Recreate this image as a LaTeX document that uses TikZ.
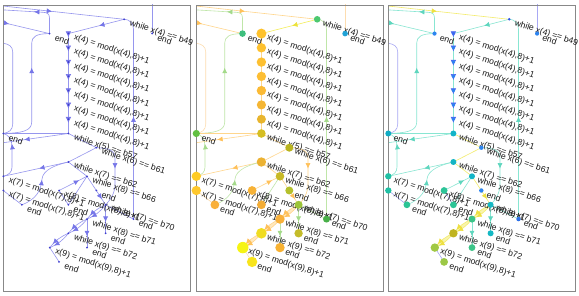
\documentclass[tikz,border=0pt]{standalone}
\usepackage{fontspec}
\setmainfont{Liberation Sans}
\usetikzlibrary{arrows.meta,decorations.markings}
\pgfdeclarelayer{bg}
\pgfdeclarelayer{lab}
\pgfsetlayers{bg,lab,main}

\definecolor{lavE}{RGB}{150,150,238}
\definecolor{lavA}{RGB}{118,118,232}
\definecolor{dotc}{RGB}{60,60,205}
\definecolor{frm}{RGB}{136,136,136}
\definecolor{orE}{HTML}{FFD68C}\definecolor{orA}{HTML}{FFC15A}
\definecolor{grE}{HTML}{BFE6A8}\definecolor{grA}{HTML}{A4DA8A}
\definecolor{loE}{HTML}{FDDDB0}\definecolor{loA}{HTML}{F8C890}
\definecolor{yeE}{HTML}{F4EE5C}\definecolor{yeA}{HTML}{EDE23A}
\definecolor{cyE}{HTML}{88E6D2}\definecolor{cyA}{HTML}{5ED6BE}
\definecolor{y3E}{HTML}{F4EC6C}\definecolor{y3A}{HTML}{EEE040}
\definecolor{puE}{HTML}{A8A8F4}\definecolor{puA}{HTML}{8484EE}
\definecolor{blA}{HTML}{4A6CF0}

% panel 2 node colours
\definecolor{p2A}{HTML}{4CC870}\definecolor{p2B}{HTML}{3EBF7E}\definecolor{p2EB}{HTML}{1FA2D6}
\definecolor{p2C1}{HTML}{FEC22C}\definecolor{p2C2}{HTML}{FEC12E}\definecolor{p2C3}{HTML}{FDC031}
\definecolor{p2C4}{HTML}{FDBE33}\definecolor{p2C5}{HTML}{FBBA35}\definecolor{p2C6}{HTML}{F5B634}
\definecolor{p2C7}{HTML}{E8B52E}\definecolor{p2C8}{HTML}{D6BE22}\definecolor{p2L1}{HTML}{62C042}
\definecolor{p2N6}{HTML}{B9B41F}\definecolor{p2D}{HTML}{ECB232}\definecolor{p2L2}{HTML}{FFCB24}
\definecolor{p2N8}{HTML}{C8BA27}\definecolor{p2L3}{HTML}{FFC82C}\definecolor{p2X8}{HTML}{F7B236}
\definecolor{p2E1}{HTML}{B4C02C}\definecolor{p2E2}{HTML}{F9B03A}\definecolor{p2E3}{HTML}{F3AC35}
\definecolor{p2W70}{HTML}{9CC438}\definecolor{p2E4}{HTML}{48B048}\definecolor{p2W71}{HTML}{F8B03A}
\definecolor{p2E5}{HTML}{C4BC2A}\definecolor{p2W72}{HTML}{F0DC20}\definecolor{p2E6}{HTML}{F8B232}
\definecolor{p2X9}{HTML}{F6F414}\definecolor{p2E7}{HTML}{F8E41C}
% panel 3 node colours
\definecolor{p3A}{HTML}{3050E8}\definecolor{p3B}{HTML}{2C84F0}\definecolor{p3EB}{HTML}{2C84F0}
\definecolor{p3C1}{HTML}{3A6AF0}\definecolor{p3C2}{HTML}{2C84F0}\definecolor{p3C3}{HTML}{2C84F0}
\definecolor{p3C4}{HTML}{2C84F0}\definecolor{p3C5}{HTML}{2C84F0}\definecolor{p3C6}{HTML}{2C84F0}
\definecolor{p3C7}{HTML}{2C84F0}\definecolor{p3C8}{HTML}{12B4C8}\definecolor{p3L1}{HTML}{10ACC4}
\definecolor{p3N6}{HTML}{2C84F0}\definecolor{p3D}{HTML}{14B4C4}\definecolor{p3L2}{HTML}{20C0A4}
\definecolor{p3N8}{HTML}{12B4C8}\definecolor{p3L3}{HTML}{20C0A4}\definecolor{p3X8}{HTML}{2CC498}
\definecolor{p3E1}{HTML}{2C84F0}\definecolor{p3E2}{HTML}{2CC496}\definecolor{p3E3}{HTML}{2CC496}
\definecolor{p3W70}{HTML}{14B8C4}\definecolor{p3E4}{HTML}{2C70E8}\definecolor{p3W71}{HTML}{3CC488}
\definecolor{p3E5}{HTML}{14B8C4}\definecolor{p3W72}{HTML}{C0B420}\definecolor{p3E6}{HTML}{3CC488}
\definecolor{p3X9}{HTML}{A0C844}\definecolor{p3E7}{HTML}{9CC846}

\tikzset{
  ea/.style={draw=cA,line width=.6pt},
  eb/.style={draw=cB,line width=.6pt},
  ec/.style={draw=cC,line width=.6pt},
  ed/.style={draw=cD,line width=.6pt},
  ee/.style={draw=cE,line width=.6pt},
  ek/.style={draw=cK,line width=.6pt},
  aa/.style={postaction={decorate},decoration={markings,mark=at position #1 with {\arrow[color=cAa]{Latex[length=5.4pt,width=5pt]}}}},
  ab/.style={postaction={decorate},decoration={markings,mark=at position #1 with {\arrow[color=cBa]{Latex[length=5.4pt,width=5pt]}}}},
  ac/.style={postaction={decorate},decoration={markings,mark=at position #1 with {\arrow[color=cCa]{Latex[length=5.4pt,width=5pt]}}}},
  ae/.style={postaction={decorate},decoration={markings,mark=at position #1 with {\arrow[color=cEa]{Latex[length=5.4pt,width=5pt]}}}},
  ak/.style={postaction={decorate},decoration={markings,mark=at position #1 with {\arrow[color=cKa]{Latex[length=6pt,width=5.6pt]}}}},
  wfill/.style={fill=cC,fill opacity=\wop},
  frame/.style={draw=frm,line width=.9pt},
  lbl/.style={font=\fontsize{8.6}{10}\selectfont,text=black!90,rotate=-18,anchor=west,inner sep=0pt},
  dotone/.style={circle,inner sep=0pt,minimum size=2pt,fill=dotc},
}

\def\poslist{A/124.2/19.3/3.3/1.4, B/49.5/33.6/3.3/2.1, EB/152.1/33.6/2.8/2.1,
 C1/68.4/33.6/5.0/1.8, C2/68.4/47.8/4.7/1.8, C3/68.4/62.1/4.7/1.8, C4/68.4/76.4/4.7/1.8,
 C5/68.4/90.6/4.7/1.8, C6/68.4/104.9/4.6/1.8, C7/68.4/119.2/4.5/1.8, C8/68.4/133.5/4.3/3.0,
 L1/3.3/133.5/3.6/3.0, N6/96.3/147.7/4.0/2.2, D/68.4/162.0/4.7/3.0, L2/3.3/176.3/4.7/3.2,
 N8/87.0/176.3/4.3/3.0, L3/3.3/190.5/4.7/3.2, X8/59.1/190.5/4.4/3.4, E1/96.3/190.5/4.0/2.2,
 E2/21.9/204.8/4.4/3.4, E3/68.4/204.8/4.4/3.4, W70/105.6/204.8/4.0/3.0, E4/133.5/219.1/3.5/2.2,
 W71/87.0/219.1/4.7/3.5, E5/105.6/233.3/4.2/3.0, W72/68.4/233.3/5.3/4.2, E6/87.0/247.6/4.7/3.4,
 X9/49.8/247.6/5.7/4.2, E7/59.1/261.9/5.2/3.9}

\def\lablist{A/while x(4) == b49, B/end, EB/end,
 C1/{x(4) = mod(x(4),8)+1}, C2/{x(4) = mod(x(4),8)+1}, C3/{x(4) = mod(x(4),8)+1},
 C4/{x(4) = mod(x(4),8)+1}, C5/{x(4) = mod(x(4),8)+1}, C6/{x(4) = mod(x(4),8)+1},
 C7/{x(4) = mod(x(4),8)+1}, C8/while x(5) == b57, L1/end, N6/while x(6) == b61,
 D/while x(7) == b62, L2/{x(7) = mod(x(7),8)+1}, N8/while x(8) == b66,
 L3/{x(7) = mod(x(7),8)+1}, X8/{x(8) = mod(x(8),8)+1}, E1/end, E2/end, E3/end,
 W70/while x(7) == b70, E4/end, W71/while x(8) == b71, E5/end, W72/while x(9) == b72,
 E6/end, X9/{x(9) = mod(x(9),8)+1}, E7/end}

\newcommand\graphedges{%
  \coordinate (\p o1) at (-20,3.5);
  \coordinate (\p o2) at (-20,8.5);
  \coordinate (\p o3) at (-20,17.1);
  \coordinate (\p o4) at (152.1,-10);
  \coordinate (\p o5) at (-20,41.5);
  \coordinate (\p o6) at (-20,146);
  \draw[ec,ac=.5] (\p o1) -- (\p A.center);
  \draw[eb,ab=.39] (\p B.center) -- (49.5,18) .. controls (49.5,13.5) and (47,12.5) .. (43,12.3) -- (\p o2);
  \draw[ea,aa=.42] (\p o3) -- (\p B.center);
  \draw[ee,ae=.45] (\p A.center) -- (\p C1.center);
  \draw[eb,ab=.5] (\p E4.center) -- (133.5,29) .. controls (133.5,23) and (129,19.3) .. (\p A.center);
  \draw[ed] (\p EB.center) -- (\p o4);
  \draw[ed] (\p L1.center) .. controls (9,132.5) and (12.7,130) .. (12.7,124) -- (12.7,52) .. controls (12.7,46.5) and (9,44) .. (3.3,43.3) -- (\p o5);
  \draw[eb,ab=.65] (\p L1.center) .. controls (22,133) and (31.7,131) .. (31.7,122) -- (31.7,43) .. controls (31.7,37) and (36,33.6) .. (\p B.center);
  \foreach \i [evaluate=\i as \j using int(\i+1)] in {1,...,7}
    {\draw[ek,ak=.26] (\p C\i.center) -- (\p C\j.center);}
  \draw[ea] (\p C8.center) -- (\p L1.center);
  \draw[ea,aa=.5] (\p C8.center) -- (\p o6);
  \draw[eb,ab=.72] (\p L2.center) .. controls (9,175) and (12,172) .. (12,167) -- (12,146) .. controls (12,139) and (8,134.5) .. (\p L1.center);
  \draw[ea,aa=.45] (\p D.center) -- (\p L2.center);
  \draw[ec] (\p C8.center) -- (\p N6.center);
  \draw[ec] (\p N6.center) -- (\p D.center);
  \draw[ea,aa=.47] (\p N6.center) .. controls (108,148) and (115,150) .. (115,158) -- (115,184) .. controls (115,193) and (111,199) .. (\p W70.center);
  \draw[ea,aa=.72] (\p X8.center) -- (\p N8.center);
  \draw[eb,ab=.5] (\p E2.center) .. controls (37,199) and (41,190) .. (42,179) .. controls (43,170) and (55,165) .. (\p D.center);
  \draw[ed] (\p L3.center) -- (\p E2.center);
  \draw[ed] (\p X8.center) -- (\p E3.center);
  \draw[eb] (\p E3.center) -- (\p N8.center);
  \draw[ec] (\p D.center) -- (\p N8.center);
  \draw[ec] (\p N8.center) -- (\p E1.center);
  \draw[ec,ac=.6] (\p E1.center) -- (\p W70.center);
  \draw[eb] (\p W70.center) -- (\p E4.center);
  \foreach \s/\t in {W70/W71,W71/W72,W72/X9}{
    \fill[wfill] (\p\s.center) to[bend left=14] (\p\t.center) to[bend left=14] (\p\s.center);
    \draw[ec,ac=.8] (\p\s.center) to[bend left=14] (\p\t.center);
    \draw[ec,ac=.8] (\p\s.center) to[bend right=14] (\p\t.center);
  }
  \draw[eb,ab=.6] (\p W70.center) -- (\p E5.center);
  \draw[eb,ab=.6] (\p W71.center) -- (\p E6.center);
  \draw[ed] (\p X9.center) -- (\p E7.center);
}

\newcommand\graphrest{%
  \begin{pgfonlayer}{bg}
    \begin{scope}
      \clip (3.3,5) rectangle (190.5,291);
      \graphedges
    \end{scope}
    \draw[frame] (3.3,5) rectangle (190.5,291);
  \end{pgfonlayer}
  \begin{pgfonlayer}{lab}
    \foreach \n/\t in \lablist
      {\node[lbl] (\p\n-l) at ([shift={(5.6,3.8)}]\p\n.center) {\t};}
  \end{pgfonlayer}
}

\begin{document}
\begin{tikzpicture}[x=1pt,y=-1pt]
  \begin{pgfonlayer}{bg}
    \fill[white] (0,0) rectangle (579,296);
  \end{pgfonlayer}
  \useasboundingbox (0,0) rectangle (579,296);

  % ---------- panel 1 ----------
  \begin{scope}
    \def\p{p1}\def\wop{0}
    \colorlet{cA}{lavE}\colorlet{cAa}{lavA}
    \colorlet{cB}{lavE}\colorlet{cBa}{lavA}
    \colorlet{cC}{lavE}\colorlet{cCa}{lavA}
    \colorlet{cD}{lavE}\colorlet{cDa}{lavA}
    \colorlet{cE}{lavE}\colorlet{cEa}{lavA}
    \colorlet{cK}{lavE}\colorlet{cKa}{lavA}
    \foreach \n/\x/\y/\ra/\rb in \poslist
      {\node[dotone] (\p\n) at (\x,\y) {};}
    \graphrest
  \end{scope}

  % ---------- panel 2 ----------
  \begin{scope}[shift={(193,0)}]
    \def\p{p2}\def\wop{0.55}
    \colorlet{cA}{orE}\colorlet{cAa}{orA}
    \colorlet{cB}{grE}\colorlet{cBa}{grA}
    \colorlet{cC}{orE}\colorlet{cCa}{orA}
    \colorlet{cD}{loE}\colorlet{cDa}{loA}
    \colorlet{cE}{yeE}\colorlet{cEa}{yeA}
    \colorlet{cK}{orE}\colorlet{cKa}{orA}
    \foreach \n/\x/\y/\ra/\rb in \poslist
      {\node[circle,inner sep=0pt,minimum size={(2*\ra)*1pt},fill=p2\n] (\p\n) at (\x,\y) {};}
    \graphrest
  \end{scope}

  % ---------- panel 3 ----------
  \begin{scope}[shift={(385,0)}]
    \def\p{p3}\def\wop{0.55}
    \colorlet{cA}{cyE}\colorlet{cAa}{cyA}
    \colorlet{cB}{cyE}\colorlet{cBa}{cyA}
    \colorlet{cC}{y3E}\colorlet{cCa}{y3A}
    \colorlet{cD}{puE}\colorlet{cDa}{puA}
    \colorlet{cE}{cyE}\colorlet{cEa}{cyA}
    \colorlet{cK}{cyE}\colorlet{cKa}{blA}
    \foreach \n/\x/\y/\ra/\rb in \poslist
      {\node[circle,inner sep=0pt,minimum size={(2*\rb)*1pt},fill=p3\n] (\p\n) at (\x,\y) {};}
    \graphrest
  \end{scope}
\end{tikzpicture}
\end{document}
